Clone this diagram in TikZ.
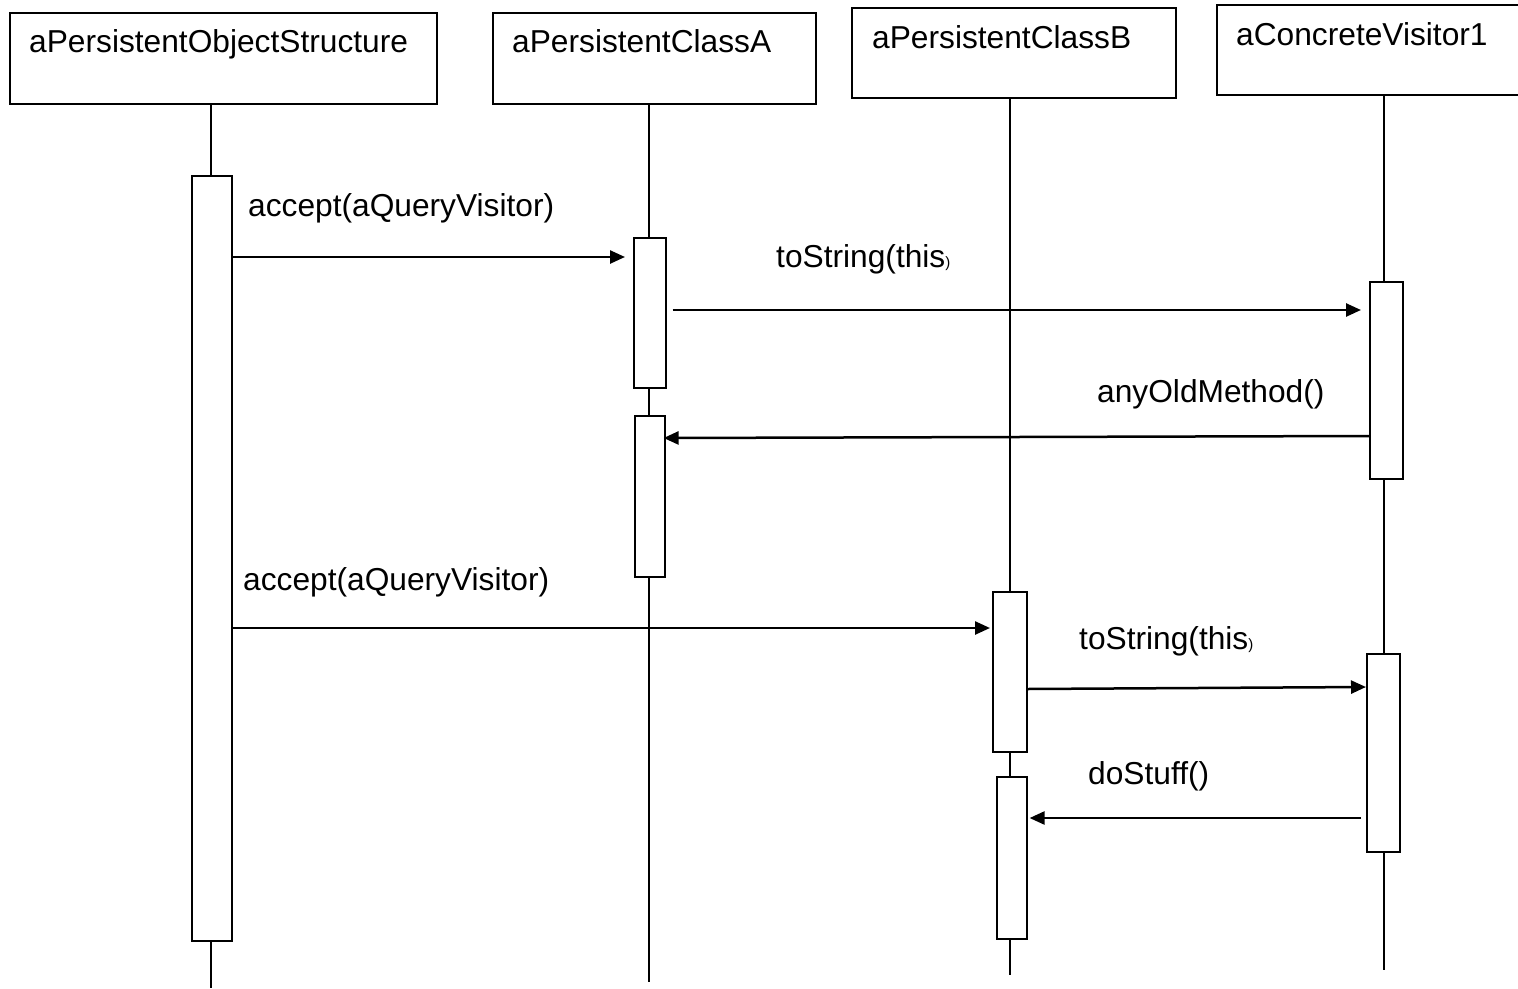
\documentclass[tikz,border=0pt]{standalone}
\usepackage{fontspec}
\setmainfont{Liberation Sans}
\usetikzlibrary{arrows.meta}
\begin{document}
\begin{tikzpicture}[x=1pt,y=-1pt,
  headbox/.style={draw,line width=1.8pt,inner sep=0pt,anchor=north west},
  act/.style={draw,fill=white,line width=1.6pt,inner sep=0pt,anchor=north west},
  life/.style={line width=1.6pt},
  msg/.style={line width=2.5pt,-{Triangle[length=15pt,width=13pt]}},
  txt/.style={anchor=base west,inner sep=0pt,font=\fontsize{31.7}{38}\selectfont}]
\useasboundingbox (0,0) rectangle (1518,988);
\clip (0,0) rectangle (1518,988);
% header boxes
\node[headbox,minimum width=427pt,minimum height=91pt] (h1) at (9,12) {};
\node[headbox,minimum width=323pt,minimum height=91pt] (h2) at (492,12) {};
\node[headbox,minimum width=324pt,minimum height=90pt] (h3) at (851,7) {};
\node[headbox,minimum width=340pt,minimum height=90pt] (h4) at (1216,4) {};
\node[txt] (t1) at (29,52) {aPersistentObjectStructure};
\node[txt] (t2) at (512,52) {aPersistentClassA};
\node[txt] (t3) at (872,48) {aPersistentClassB};
\node[txt] (t4) at (1236,45) {aConcreteVisitor1};
% lifeline ends
\coordinate (e1) at (211,988);
\coordinate (e2) at (649,982);
\coordinate (e3) at (1010,975);
\coordinate (e4) at (1384,970);
% lifelines (drawn first, activations on top)
\draw[life] (e1 |- h1.south) -- (e1);
\draw[life] (e2 |- h2.south) -- (e2);
\draw[life] (e3 |- h3.south) -- (e3);
\draw[life] (e4 |- h4.south) -- (e4);
% activations
\node[act,minimum width=40pt,minimum height=765pt] (o1) at (191,175) {};
\node[act,minimum width=32pt,minimum height=150pt] (a1) at (633,237) {};
\node[act,minimum width=30pt,minimum height=161pt] (a2) at (634,415) {};
\node[act,minimum width=34pt,minimum height=160pt] (b1) at (992,591) {};
\node[act,minimum width=30pt,minimum height=162pt] (b2) at (996,776) {};
\node[act,minimum width=33pt,minimum height=197pt] (c1) at (1369,281) {};
\node[act,minimum width=33pt,minimum height=198pt] (c2) at (1366,653) {};
% message levels
\coordinate (m1) at (0,257);
\coordinate (m2) at (0,310);
\coordinate (m3a) at (0,436);
\coordinate (m3b) at (0,438);
\coordinate (m4) at (0,628);
\coordinate (m5a) at (0,689);
\coordinate (m5b) at (0,687);
\coordinate (m6) at (0,818);
% messages
\draw[msg,shorten >=8pt] (o1.east |- m1) -- (a1.west |- m1);
\draw[msg,shorten <=6pt,shorten >=8pt] (a1.east |- m2) -- (c1.west |- m2);
\draw[msg,shorten >=-2pt] (c1.west |- m3a) -- (a2.east |- m3b);
\draw[msg,shorten >=2pt] (o1.east |- m4) -- (b1.west |- m4);
\draw[msg] (b1.east |- m5a) -- (c2.west |- m5b);
\draw[msg,shorten <=5pt,shorten >=2pt] (c2.west |- m6) -- (b2.east |- m6);
% labels
\node[txt] (l1) at (248,216) {accept(aQueryVisitor)};
\node[txt] (l2) at (776,267) {toString(this{\fontsize{15}{18}\selectfont)}};
\node[txt] (l3) at (1097,402) {anyOldMethod()};
\node[txt] (l4) at (243,590) {accept(aQueryVisitor)};
\node[txt] (l5) at (1079,649) {toString(this{\fontsize{15}{18}\selectfont)}};
\node[txt] (l6) at (1088,784) {doStuff()};
\end{tikzpicture}
\end{document}
